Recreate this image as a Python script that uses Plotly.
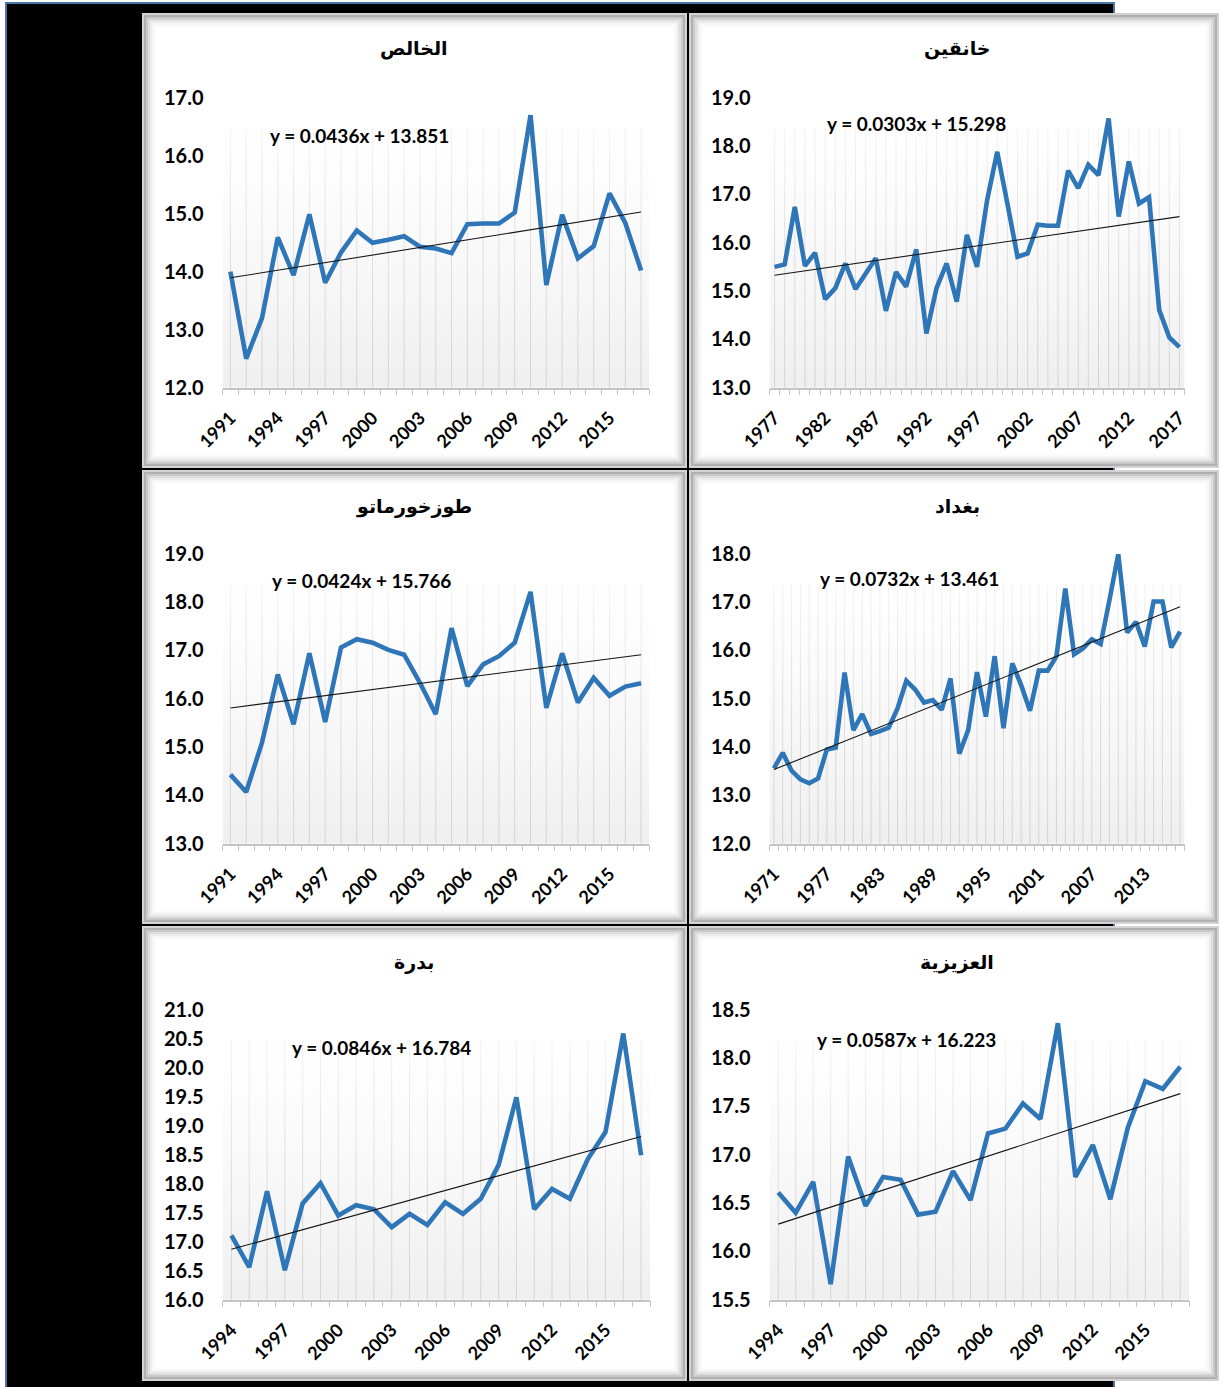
import plotly.graph_objects as go

W, H = 1221, 1387

# ---------------- data ----------------
khalis_years = list(range(1991, 2018))
khalis_vals = [14.0, 12.5, 13.2, 14.59, 13.94, 14.99, 13.81, 14.33, 14.71, 14.5,
               14.55, 14.61, 14.43, 14.40, 14.32, 14.82, 14.83, 14.83, 15.02, 16.70,
               13.77, 14.98, 14.23, 14.44, 15.35, 14.84, 14.02]

khanaqin_years = list(range(1977, 2018))
khanaqin_vals = [15.50, 15.55, 16.74, 15.52, 15.79, 14.83, 15.06, 15.57, 15.04, 15.38,
                 15.68, 14.59, 15.39, 15.09, 15.86, 14.12, 15.06, 15.57, 14.78, 16.16,
                 15.50, 16.88, 17.88, 16.81, 15.71, 15.78, 16.37, 16.35, 16.35, 17.49,
                 17.13, 17.61, 17.40, 18.57, 16.54, 17.68, 16.81, 16.94, 14.61, 14.04,
                 13.84]

tuz_years = list(range(1991, 2018))
tuz_vals = [14.43, 14.07, 15.09, 16.50, 15.47, 16.94, 15.52, 17.06, 17.23, 17.16,
            17.01, 16.91, 16.33, 15.68, 17.46, 16.26, 16.71, 16.88, 17.16, 18.21,
            15.81, 16.94, 15.92, 16.43, 16.06, 16.25, 16.32]

baghdad_years = list(range(1971, 2018))
baghdad_vals = [13.56, 13.88, 13.51, 13.33, 13.25, 13.35, 13.95, 13.99, 15.54, 14.35,
                14.68, 14.27, 14.33, 14.40, 14.80, 15.37, 15.19, 14.92, 14.97, 14.77,
                15.42, 13.86, 14.35, 15.55, 14.63, 15.88, 14.39, 15.73, 15.28, 14.75,
                15.58, 15.58, 15.88, 17.28, 15.92, 16.04, 16.23, 16.13, 17.04, 17.99,
                16.37, 16.59, 16.08, 17.01, 17.01, 16.06, 16.39]

badra_years = list(range(1994, 2018))
badra_vals = [17.11, 16.56, 17.87, 16.51, 17.66, 18.01, 17.45, 17.63, 17.56, 17.25,
              17.48, 17.29, 17.68, 17.48, 17.74, 18.32, 19.49, 17.56, 17.91, 17.74,
              18.42, 18.89, 20.59, 18.49]

aziziya_years = list(range(1994, 2018))
aziziya_vals = [16.61, 16.40, 16.72, 15.66, 16.98, 16.47, 16.77, 16.74, 16.38, 16.41,
                16.83, 16.53, 17.22, 17.27, 17.53, 17.37, 18.36, 16.77, 17.10, 16.54,
                17.28, 17.76, 17.68, 17.91]

titles = ["الخالص", "خانقين", "طوزخورماتو", "بغداد", "بدرة", "العزيزية"]
slopes = ["0.0436", "0.0303", "0.0424", "0.0732", "0.0846", "0.0587"]
intercepts = ["13.851", "15.298", "15.766", "13.461", "16.784", "16.223"]
y_ranges = [(12.0, 17.0), (13.0, 19.0), (13.0, 19.0), (12.0, 18.0), (16.0, 21.0), (15.5, 18.5)]
y_dticks = [1.0, 1.0, 1.0, 1.0, 0.5, 0.5]
label_steps = [3, 5, 3, 6, 3, 3]

series = [
    (khalis_years, khalis_vals),
    (khanaqin_years, khanaqin_vals),
    (tuz_years, tuz_vals),
    (baghdad_years, baghdad_vals),
    (badra_years, badra_vals),
    (aziziya_years, aziziya_vals),
]

# ---------------- layout geometry (pixels) ----------------
plot_x = [(222.5, 649), (769.5, 1184.5), (222.5, 649), (769.5, 1184.5), (222.5, 650), (769.5, 1189)]
plot_y = [(97.7, 387.7), (97.7, 387.7), (553.7, 843.7), (553.7, 843.7), (1009.7, 1299.7), (1009.7, 1299.7)]
panel_x = [(142, 687), (689, 1219)] * 3
panel_y = [(13, 468), (13, 468), (470, 924), (470, 924), (926, 1381), (926, 1381)]
title_pos = [(414, 49), (957, 49), (414, 506), (957, 506), (414, 962), (957, 962)]
eq_pos = [(359, 135), (916, 123), (361, 580), (909, 578), (381, 1047), (906, 1039)]

LINE_BLUE = "#2e76b7"
NUM_FONT = "Lato"


def fx(px):
    return px / W


def fy(py):
    return 1 - py / H


fig = go.Figure()
shapes = []
annotations = []

# black backdrop with blue border
shapes.append(dict(type="rect", xref="paper", yref="paper", layer="below",
                   x0=fx(6), x1=fx(1114), y0=fy(1400), y1=fy(3),
                   fillcolor="black", line=dict(color="#4a78aa", width=2)))

# panel frames with inner shadow
frame_layers = [(1, "#d2d2d2"), (3, "#b0b0b0"), (5, "#c9c9c9"), (7, "#dddddd"),
                (9, "#ececec"), (11, "#f6f6f6"), (13, "#fcfcfc")]
for i in range(6):
    x0, x1 = panel_x[i]
    y0, y1 = panel_y[i]
    shapes.append(dict(type="rect", xref="paper", yref="paper", layer="below",
                       x0=fx(x0), x1=fx(x1), y0=fy(y1), y1=fy(y0),
                       fillcolor="white", line=dict(width=0)))
    for inset, col in frame_layers:
        shapes.append(dict(type="rect", xref="paper", yref="paper", layer="below",
                           x0=fx(x0 + inset), x1=fx(x1 - inset),
                           y0=fy(y1 - inset), y1=fy(y0 + inset),
                           line=dict(color=col, width=2)))

for i in range(6):
    years, vals = series[i]
    n = len(years)
    ymin, ymax = y_ranges[i]
    xs = "" if i == 0 else str(i + 1)
    xref, yref = "x" + xs, "y" + xs
    xlo, xhi = years[0] - 0.5, years[-1] + 0.5
    ytop = ymin + 0.895 * (ymax - ymin)

    # background gradient
    fig.add_trace(go.Scatter(
        x=[xlo, xhi, xhi, xlo, xlo], y=[ymin, ymin, ytop, ytop, ymin],
        mode="none", fill="toself",
        fillgradient=dict(type="vertical",
                          colorscale=[[0, "#efefef"], [1, "#fdfdfd"]]),
        hoverinfo="skip", showlegend=False, xaxis=xref, yaxis=yref))

    # vertical gridlines at each category
    gx, gy = [], []
    for yr in years:
        gx += [yr, yr, None]
        gy += [ymin, ytop, None]
    fig.add_trace(go.Scatter(x=gx, y=gy, mode="lines",
                             line=dict(color="#d3d3d3", width=1),
                             hoverinfo="skip", showlegend=False, xaxis=xref, yaxis=yref))

    # fade overlay
    fig.add_trace(go.Scatter(
        x=[xlo, xhi, xhi, xlo, xlo], y=[ymin, ymin, ytop, ytop, ymin],
        mode="none", fill="toself",
        fillgradient=dict(type="vertical",
                          colorscale=[[0, "rgba(255,255,255,0)"],
                                      [0.5, "rgba(255,255,255,0.25)"],
                                      [1, "rgba(255,255,255,0.75)"]]),
        hoverinfo="skip", showlegend=False, xaxis=xref, yaxis=yref))

    # data line
    fig.add_trace(go.Scatter(x=years, y=vals, mode="lines",
                             line=dict(color=LINE_BLUE, width=4.6),
                             hoverinfo="skip", showlegend=False, xaxis=xref, yaxis=yref))

    # linear trendline from displayed equation (x = 1..n)
    a, b = float(slopes[i]), float(intercepts[i])
    fig.add_trace(go.Scatter(x=[years[0], years[-1]], y=[a * 1 + b, a * n + b],
                             mode="lines", line=dict(color="#151515", width=1.1),
                             hoverinfo="skip", showlegend=False, xaxis=xref, yaxis=yref))

    step = label_steps[i]
    ticktext = [str(yr) if (yr - years[0]) % step == 0 else "" for yr in years]
    minor_vals = [yr - 0.5 for yr in years] + [years[-1] + 0.5]

    px0, px1 = plot_x[i]
    py0, py1 = plot_y[i]
    xaxis_key = "xaxis" + xs
    yaxis_key = "yaxis" + xs
    fig.update_layout(**{
        xaxis_key: dict(
            domain=[fx(px0), fx(px1)], anchor=yref, range=[xlo, xhi],
            tickmode="array", tickvals=years, ticktext=ticktext, tickangle=-45,
            ticks="", showgrid=False, zeroline=False, automargin=False,
            showline=True, linecolor="#c4c4c4", linewidth=1.5,
            tickfont=dict(family=NUM_FONT, size=18, color="#000000", weight="bold"),
            ticklabelstandoff=11,
            minor=dict(ticks="outside", ticklen=6, tickcolor="#c4c4c4", tickwidth=1,
                       tickvals=minor_vals, showgrid=False),
            fixedrange=True),
        yaxis_key: dict(
            domain=[fy(py1), fy(py0)], anchor=xref, range=[ymin, ymax],
            tickmode="linear", tick0=ymin, dtick=y_dticks[i], tickformat=".1f",
            ticks="", showgrid=False, zeroline=False, showline=False, automargin=False,
            tickfont=dict(family=NUM_FONT, size=20, color="#000000", weight="bold"),
            ticklabelstandoff=18, fixedrange=True),
    })

    tx, ty = title_pos[i]
    annotations.append(dict(text=titles[i], xref="paper", yref="paper",
                            x=fx(tx), y=fy(ty), xanchor="center", yanchor="middle",
                            showarrow=False,
                            font=dict(family="DejaVu Sans", size=19, color="#000000", weight="bold")))
    ex, ey = eq_pos[i]
    annotations.append(dict(text=f"y = {slopes[i]}x + {intercepts[i]}", xref="paper", yref="paper",
                            x=fx(ex), y=fy(ey), xanchor="center", yanchor="middle",
                            showarrow=False,
                            font=dict(family=NUM_FONT, size=19, color="#000000", weight="bold")))

fig.update_layout(
    width=W, height=H, margin=dict(l=0, r=0, t=0, b=0, autoexpand=False),
    paper_bgcolor="white", plot_bgcolor="rgba(0,0,0,0)",
    shapes=shapes, annotations=annotations, showlegend=False,
)

fig.write_html("out.html")
